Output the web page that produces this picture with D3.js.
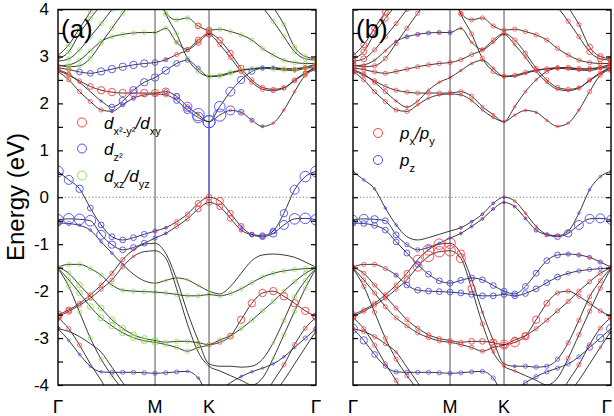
<!DOCTYPE html>
<html><head><meta charset="utf-8">
<script src="https://cdn.jsdelivr.net/npm/d3@7"></script>
<style>body{margin:0;background:#fff}svg{display:block}text{font-family:"Liberation Sans",Arial,sans-serif}</style>
</head><body>
<svg id="c" width="614" height="416"></svg>
<script>
// ---- k-path ----
const kLabels = ["\u0393", "M", "K", "\u0393"];
const kTicks = [0, 0.577, 0.898, 1.534];
const kNodes = [0, 0.0641, 0.1282, 0.1923, 0.2564, 0.3206, 0.3847, 0.4488, 0.5129, 0.577,
  0.6412, 0.7054, 0.7696, 0.8338, 0.898,
  0.9616, 1.0252, 1.0888, 1.1524, 1.216, 1.2796, 1.3432, 1.4068, 1.4704, 1.534];
const yMajor = [-4, -3, -2, -1, 0, 1, 2, 3, 4];
const yMinor = [-3.5, -2.5, -1.5, -0.5, 0.5, 1.5, 2.5, 3.5];

// ---- band energies (eV) at kNodes ----
const CB1 = [2.68, 2.50, 2.25, 2.04, 1.86, 1.83, 1.97, 2.11, 2.18, 2.20, 2.18, 2.06, 1.86, 1.70, 1.61, 1.75, 1.85, 1.81, 1.64, 1.51, 1.58, 1.86, 2.25, 2.60, 2.72];
const CB2 = [2.70, 2.60, 2.48, 2.36, 2.28, 2.24, 2.22, 2.22, 2.22, 2.22, 2.25, 2.15, 1.93, 1.76, 1.61, 1.93, 2.25, 2.50, 2.68, 2.75, 2.76, 2.73, 2.74, 2.76, 2.75];
const CBX = [2.72, 2.62, 2.45, 2.25, 2.05, 1.92, 2.05, 2.28, 2.45, 2.55, 2.70, 2.85, 2.92, 2.75, 2.57, 2.58, 2.64, 2.70, 2.73, 2.75, 2.73, 2.71, 2.70, 2.75, 2.82];
const CB3 = [2.76, 2.72, 2.67, 2.64, 2.68, 2.73, 2.78, 2.82, 2.85, 2.87, 2.93, 3.04, 3.14, 3.35, 3.49, 3.35, 3.07, 2.75, 2.50, 2.34, 2.30, 2.33, 2.50, 2.65, 2.78];
const CBE = [2.80, 2.82, 2.92, 3.12, 3.32, 3.42, 3.47, 3.50, 3.51, 3.51, 3.60, 3.30, 3.15, 3.30, 3.47, 3.25, 2.98, 2.68, 2.45, 2.30, 2.27, 2.33, 2.48, 2.64, 2.76];
const CBF = [2.82, 2.78, 2.80, 2.96, 3.28, 3.60, 3.92, 4.20, 4.40, 4.50, 3.90, 3.48, 2.96, 2.68, 2.58, 2.60, 2.66, 2.71, 2.74, 2.76, 2.76, 2.74, 2.73, 2.77, 2.84];
const CBG = [2.90, 2.95, 3.14, 3.42, 3.70, 4.00, 4.30, 4.50, 4.50, 4.40, 3.92, 3.78, 3.82, 3.65, 3.56, 3.58, 3.53, 3.46, 3.35, 3.17, 3.03, 2.92, 2.87, 2.85, 2.85];
const CBH = [2.95, 3.10, 3.49, 3.81, 4.10, 4.40, 4.60, 4.80, 4.90, 5.00, 5.00, 5.00, 5.00, 5.00, 5.00, 4.90, 4.75, 4.55, 4.30, 4.05, 3.75, 3.42, 3.10, 2.95, 2.92];
const CBI = [3.02, 3.25, 3.60, 3.95, 4.30, 4.60, 4.80, 5.00, 5.10, 5.20, 5.20, 5.20, 5.20, 5.20, 5.20, 5.10, 5.00, 4.85, 4.65, 4.40, 4.05, 3.68, 3.20, 3.00, 2.95];
const V1 = [0.55, 0.37, 0.18, -0.23, -0.59, -0.84, -0.91, -0.86, -0.79, -0.72, -0.65, -0.52, -0.36, -0.13, 0.00, -0.08, -0.34, -0.62, -0.79, -0.82, -0.72, -0.34, 0.16, 0.44, 0.55];
const V2 = [-0.48, -0.46, -0.47, -0.50, -0.80, -1.01, -1.12, -1.07, -0.98, -0.87, -0.77, -0.62, -0.46, -0.25, -0.11, -0.20, -0.45, -0.70, -0.80, -0.84, -0.77, -0.59, -0.46, -0.45, -0.48];
const V3 = [-0.55, -0.56, -0.60, -0.70, -0.95, -1.19, -1.43, -1.64, -1.78, -1.83, -1.77, -1.72, -1.76, -1.88, -2.00, -2.06, -1.90, -1.62, -1.35, -1.23, -1.21, -1.23, -1.28, -1.38, -1.49];
const V4 = [-1.49, -1.43, -1.43, -1.52, -1.66, -1.87, -1.98, -2.00, -2.01, -2.02, -2.04, -2.07, -2.10, -2.10, -2.07, -2.10, -2.05, -1.95, -1.82, -1.70, -1.62, -1.57, -1.54, -1.52, -1.51];
const V5 = [-2.50, -2.40, -2.26, -2.08, -1.87, -1.62, -1.33, -1.12, -1.00, -0.98, -1.20, -1.75, -2.45, -3.05, -3.55, -3.60, -3.60, -3.62, -3.60, -3.45, -3.10, -2.62, -2.12, -1.78, -1.51];
const V6 = [-2.54, -2.43, -2.30, -2.15, -1.96, -1.76, -1.48, -1.26, -1.16, -1.14, -1.30, -1.95, -2.70, -3.30, -3.60, -3.70, -3.80, -3.90, -4.00, -3.85, -3.43, -2.93, -2.43, -1.94, -1.52];
const V7 = [-1.49, -1.62, -1.87, -2.11, -2.36, -2.61, -2.79, -2.93, -3.01, -3.05, -3.09, -3.07, -3.07, -3.10, -3.14, -3.09, -2.96, -2.61, -2.26, -2.04, -2.00, -2.11, -2.26, -2.42, -2.54];
const V8 = [-1.51, -1.76, -2.04, -2.33, -2.57, -2.74, -2.89, -2.99, -3.06, -3.09, -3.14, -3.20, -3.28, -3.20, -3.15, -3.04, -2.95, -2.80, -2.62, -2.42, -2.22, -2.00, -1.80, -1.62, -1.50];
const V9 = [-2.56, -2.80, -3.15, -3.55, -3.90, -4.30, -4.60, -4.80, -4.90, -5.00, -5.00, -5.00, -5.00, -5.00, -5.00, -5.00, -5.00, -4.90, -4.70, -4.30, -3.92, -3.57, -3.14, -2.79, -2.56];
const V10 = [-2.80, -3.05, -3.35, -3.60, -3.72, -3.73, -3.73, -3.73, -3.74, -3.75, -3.74, -3.72, -3.71, -3.85, -4.20, -4.10, -3.95, -3.82, -3.72, -3.64, -3.55, -3.40, -3.20, -3.00, -2.80];
const V11 = [-2.80, -2.86, -2.97, -3.12, -3.30, -3.62, -3.95, -4.30, -4.60, -4.80, -5.00, -5.00, -5.00, -5.00, -5.00, -5.00, -5.00, -5.00, -4.80, -4.50, -4.20, -3.90, -3.55, -3.20, -2.85];
const V12 = [-1.52, -1.90, -2.45, -3.00, -3.45, -3.80, -4.10, -4.40, -4.60, -4.80, -4.80, -4.70, -4.50, -4.30, -4.10, -4.30, -4.50, -4.70, -4.80, -4.80, -4.80, -4.80, -4.80, -4.80, -4.80];

const bands = [CB1, CB2, CBX, CB3, CBE, CBF, CBG, CBH, CBI, V1, V2, V3, V4, V5, V6, V7, V8, V9, V10, V11, V12];

// ---- orbital weights per band (digit = weight level at each k-node; "|" marks M and K segments) ----
const wDxy = ["2222211122|20000|0111111122", "2223444444|43210|0000011122", "2210000000|00000|0000000111", "2200000000|12233|3332222222",
  "1000000000|01233|2222222221", "1000000000|00000|0000000001", "1000000000|00033|0000000001", "1000000000|00000|0000000001", "1000000000|00000|0000000001",
  "0000000001|12233|4332100000", "0000000000|12233|3322100000", "0000000000|00000|0000000000", "0000000000|00000|0000000000",
  "4322222100|00000|0000000000", "4322222100|00000|0000000000", "0000000000|00012|2344444444", "0000000000|00000|0000000000",
  "3220000000|00000|0000002223", "2000000000|00000|0000000002", "1000000000|00000|0000000001", "0000000000|00000|0000000000"];
const wDz2 = ["0000012200|03467|7532100000", "0000000000|23577|6543210000", "0000134444|43220|0000000000", "0033444443|20000|0000000000",
  "0000000000|00000|0000000000", "0000000000|00000|0000000000", "0000000000|00000|0000000000", "0000000000|00000|0000000000", "0000000000|00000|0000000000",
  "6543333332|10000|0012334566", "6666543332|10000|0012345666", "3211111000|00000|0000000000", "0000000000|00000|0000000000",
  "0000000000|00000|0000000000", "0000000000|00000|0000000000", "0000000000|00000|0000000000", "0000000000|00000|0000000000",
  "0000000000|00000|0000000000", "2111122222|22110|0011111122", "0000000000|00000|0000000000", "0000000000|00000|0000000000"];
const wDxz = ["1100000000|00000|0000000011", "1100000000|00000|0000000011", "1100000000|00012|2222222222", "1100000000|00000|0000000011",
  "1222222222|22210|0000000011", "1222222222|22222|2222222222", "1222222222|22222|2222222222", "2222222222|22222|2222222222", "2222222222|22222|2222222222",
  "0000000000|00000|0000000000", "0000000000|00000|0000000000", "0000000001|11111|0000000000", "2222222222|22222|2222222222",
  "0000000000|00000|0000012222", "0000000000|00000|0000012222", "2233333333|22221|0000000000", "2233333333|22222|2222222222",
  "0000000000|00000|0000000000", "0000000000|00000|0000000000", "0000000000|00000|0000000000", "2222220000|00000|0000000000"];
const wPxy = ["3222221111|11111|1111111223", "3222222222|22111|1112222223", "3222111111|11111|1111111113", "3222222222|22222|2222222223",
  "3111111111|11111|1111111113", "3222222222|22222|2222222222", "3322222222|22222|2222222222", "3333222222|22222|2222222333", "3333222222|22222|2222222333",
  "0000000000|11111|1111110000", "0000000000|11111|1111000000", "0000000000|00000|0000011112", "2222100000|00000|0000000002",
  "3222235666|42111|1000022222", "3222235666|54211|1000022222", "2222222222|23345|5443222222", "2222222222|22233|3322222222",
  "3222200000|00000|0000002223", "0000000000|00000|0000000000", "2222100000|00000|0000000012", "2222222000|00000|0000000000"];
const wPz = ["0000000000|00000|0000000000", "0000000000|00000|0000000000", "0000000000|00000|0000000000", "0000000000|00000|0000000000",
  "0000122222|00000|0000000000", "0000000000|00000|0000000000", "0000000000|00000|0000000000", "0000000000|00000|0000000000", "0000000000|00000|0000000000",
  "1111100000|11111|0000001111", "5543322211|11111|1122345555", "3333333333|33333|3333322221", "0000233333|33333|3333322220",
  "0000000000|00000|1222200000", "0000000000|00000|0000000000", "0000000000|00000|0000000000", "0000000000|00000|0000000000",
  "0000000000|00000|0000000000", "5432222222|22222|2222222345", "0000000000|00000|0000000000", "0000000000|00000|0000000000"];

const RED = "#ff3c3c", BLUE = "#4a4aff", GREEN = "#8ae052";

const panels = [
  {id: "a", x0: 58, x1: 316, tag: "(a)", labels: true,
   orbitals: [{w: wDxz, color: GREEN}, {w: wDxy, color: RED}, {w: wDz2, color: BLUE}]},
  {id: "b", x0: 353, x1: 611, tag: "(b)", labels: false,
   orbitals: [{w: wPxy, color: RED}, {w: wPz, color: BLUE}]}
];

const svg = d3.select("#c");
const y = d3.scaleLinear().domain([-4, 4]).range([385, 9.5]);
const parseW = s => { const a = s.replace(/\|/g, "").split("").map(Number); while (a.length < kNodes.length) a.push(0); return a; };
const r = w => 0.5 + 0.8 * w;

panels.forEach((p, pi) => {
  const x = d3.scaleLinear().domain([kTicks[0], kTicks[3]]).range([p.x0, p.x1]);
  const clipId = "clip" + p.id;
  svg.append("clipPath").attr("id", clipId).append("rect")
    .attr("x", p.x0).attr("y", y(4)).attr("width", p.x1 - p.x0).attr("height", y(-4) - y(4));
  const plot = svg.append("g").attr("clip-path", `url(#${clipId})`);

  plot.append("line").attr("x1", p.x0).attr("x2", p.x1).attr("y1", y(0)).attr("y2", y(0))
    .attr("stroke", "#666").attr("stroke-width", 0.9).attr("stroke-dasharray", "1.2,2.2");
  [kTicks[1], kTicks[2]].forEach(k => plot.append("line").attr("x1", x(k)).attr("x2", x(k))
    .attr("y1", y(4)).attr("y2", y(-4)).attr("stroke", "#7a7a7a").attr("stroke-width", 1.3));
  if (p.id === "a") {
    plot.append("line").attr("x1", x(kTicks[2])).attr("x2", x(kTicks[2]))
      .attr("y1", y(CB1[14])).attr("y2", y(V1[14])).attr("stroke", BLUE).attr("stroke-width", 1.1);
  }

  const line = d3.line().x((d, i) => x(kNodes[i])).y(d => y(d)).curve(d3.curveMonotoneX);
  bands.forEach(b => plot.append("path").attr("d", line(b)).attr("fill", "none")
    .attr("stroke", "#222").attr("stroke-width", 0.9));

  p.orbitals.forEach(o => {
    bands.forEach((b, bi) => {
      const w = parseW(o.w[bi]);
      plot.append("g").selectAll("circle").data(b.map((e, i) => ({e, i, w: w[i]})).filter(d => d.w > 0))
        .join("circle").attr("cx", d => x(kNodes[d.i])).attr("cy", d => y(d.e)).attr("r", d => r(d.w))
        .attr("fill", "none").attr("stroke", o.color).attr("stroke-width", 1)
        .attr("stroke-opacity", d => d.w <= 2 ? 0.75 : 0.9);
    });
  });

  // axes ticks
  const tv = yMajor.concat(yMinor);
  const left = svg.append("g").attr("transform", `translate(${p.x0},0)`)
    .call(d3.axisLeft(y).tickValues(tv).tickSize(-5).tickPadding(9)
      .tickFormat(d => (p.labels && Number.isInteger(d)) ? String(d) : ""));
  const right = svg.append("g").attr("transform", `translate(${p.x1},0)`)
    .call(d3.axisRight(y).tickValues(tv).tickSize(-5).tickFormat(""));
  [left, right].forEach(a => { a.select(".domain").remove(); a.selectAll("line").attr("stroke", "#000").attr("stroke-width", 1.2); });
  left.selectAll("text").attr("font-size", 17).attr("fill", "#000").attr("font-family", "Liberation Sans, Arial, sans-serif");

  svg.append("rect").attr("x", p.x0).attr("y", y(4)).attr("width", p.x1 - p.x0).attr("height", y(-4) - y(4))
    .attr("fill", "none").attr("stroke", "#000").attr("stroke-width", 1.4);

  // k labels
  kTicks.forEach((k, i) => {
    const isG = kLabels[i] === "\u0393";
    const lastRight = (pi === panels.length - 1 && i === kTicks.length - 1);
    svg.append("text").attr("x", lastRight ? 612 : x(k)).attr("y", 413)
      .attr("text-anchor", lastRight ? "end" : "middle")
      .attr("font-size", isG ? 19 : 18)
      .attr("font-family", isG ? "Liberation Serif, Times New Roman, serif" : "Liberation Sans, Arial, sans-serif")
      .text(kLabels[i]);
  });

  svg.append("text").attr("x", p.x0 + 3).attr("y", 38).attr("font-size", 26).text(p.tag);
});

// y-axis title
svg.append("text").attr("transform", "translate(24,197) rotate(-90)").attr("text-anchor", "middle")
  .attr("font-size", 24).text("Energy (eV)");

// legends
function legendItem(cx, cy, color, parts) {
  svg.append("circle").attr("cx", cx).attr("cy", cy).attr("r", 4.5).attr("fill", "none")
    .attr("stroke", color).attr("stroke-width", 1);
  const t = svg.append("text").attr("x", cx + 22).attr("y", cy + 6).attr("font-size", 17);
  parts.forEach(pt => {
    const s = t.append("tspan").text(pt.t);
    if (pt.sub) s.attr("font-size", 11).attr("dy", pt.dy);
    else { s.attr("font-style", "italic"); if (pt.dy) s.attr("dy", pt.dy); }
  });
}
legendItem(82, 122.5, RED, [{t: "d"}, {t: "x\u00b2-y\u00b2", sub: true, dy: 6}, {t: "/d", dy: -6}, {t: "xy", sub: true, dy: 6}]);
legendItem(82, 148.5, BLUE, [{t: "d"}, {t: "z\u00b2", sub: true, dy: 6}]);
legendItem(82, 175.5, GREEN, [{t: "d"}, {t: "xz", sub: true, dy: 6}, {t: "/d", dy: -6}, {t: "yz", sub: true, dy: 6}]);
legendItem(378, 133, RED, [{t: "p"}, {t: "x", sub: true, dy: 6}, {t: "/p", dy: -6}, {t: "y", sub: true, dy: 6}]);
legendItem(378, 160, BLUE, [{t: "p"}, {t: "z", sub: true, dy: 6}]);
</script>
</body></html>
